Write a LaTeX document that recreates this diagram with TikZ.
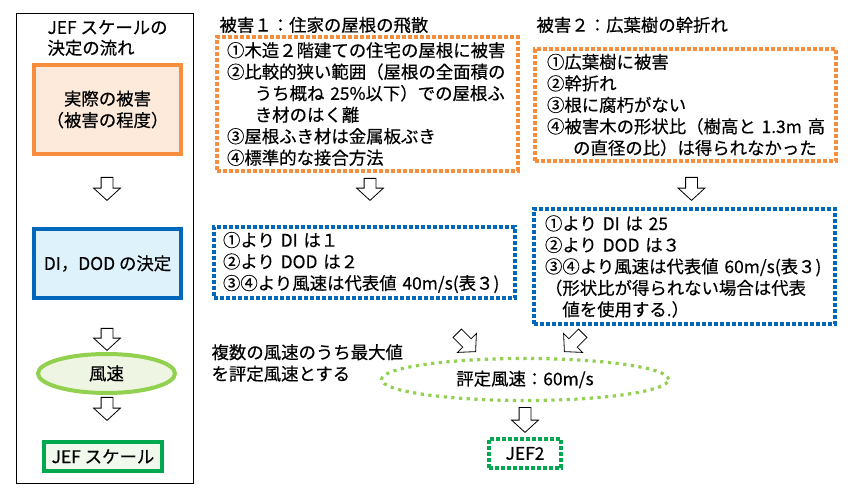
\documentclass[tikz,border=0pt]{standalone}
\usepackage{fontspec}
\setmainfont{Noto Sans CJK JP}[FakeBold=0.4]
\usetikzlibrary{positioning,shapes.geometric,shapes.arrows}
\definecolor{dmgorange}{HTML}{F68E3E}
\definecolor{dmgpeach}{HTML}{FDEADA}
\definecolor{diblue}{HTML}{0068BA}
\definecolor{dicyan}{HTML}{DDF2FA}
\definecolor{windgreen}{HTML}{92D050}
\definecolor{windpale}{HTML}{EEF5E2}
\definecolor{jefgreen}{HTML}{00A94F}
\definecolor{jefpale}{HTML}{F1F8EC}

\tikzset{
  txt/.style={font=\fontsize{17.4pt}{21.5pt}\selectfont},
  flowbox/.style={txt, draw=#1, line width=4pt, align=center, inner sep=2pt},
  dotbox/.style={txt, draw=#1, line width=4pt, dash pattern=on 4pt off 2pt,
    anchor=north west, align=left, inner ysep=0pt},
  hollow/.style={single arrow, draw, fill=white, line width=0.8pt, inner xsep=0pt,
    inner ysep=5.5pt, single arrow head extend=7.5pt, single arrow tip angle=95,
    minimum height=23pt, anchor=tail}
}

\begin{document}
\begin{tikzpicture}[x=1pt,y=-1pt]
    \useasboundingbox (0,0) rectangle (862,502);
    \node[draw, line width=0.8pt, anchor=north west, minimum width=177pt,
      minimum height=470pt, inner sep=0pt] (flow) at (16,13) {};
    \node[anchor=west, align=left, font=\fontsize{17.4pt}{20.5pt}\selectfont]
      (flowtitle) at (44,38) {JEF スケールの\\決定の流れ};
    \node[flowbox=dmgorange, fill=dmgpeach, minimum width=147pt, minimum height=89pt]
      (real) at (107.5,109.5) {実際の被害\\（被害の程度）};
    \node[flowbox=diblue, fill=dicyan, minimum width=147pt, minimum height=69pt]
      (didod) at (107.5,263.5) {DI，DOD の決定};
    \node[flowbox=windgreen, fill=windpale, ellipse, minimum width=137pt, minimum height=39pt]
      (wind) at (106.5,373.5) {風速};
    \node[flowbox=jefgreen, fill=jefpale, minimum width=118pt, minimum height=29pt]
      (jef) at (103,456.5) {JEF スケール};
    \node[hollow, rotate=-90] (a1) at (107,177) {};
    \node[hollow, rotate=-90, minimum height=22pt] (a2) at (107,328) {};
    \node[hollow, rotate=-90] (a3) at (107,397) {};

    \node[txt, anchor=west] (d1title) at (216,25) {被害１：住家の屋根の飛散};
    \node[dotbox=dmgorange, inner xsep=10pt, text width=280.5pt, minimum height=134pt]
      (d1) at (215,35) {①木造２階建ての住宅の屋根に被害\\
        ②比較的狭い範囲（屋根の全面積の\\
        \hspace*{1.6em}うち概ね~25\%以下）での屋根ふ\\
        \hspace*{1.6em}き材のはく離\\
        ③屋根ふき材は金属板ぶき\\
        ④標準的な接合方法};
    \node[txt, anchor=west] (d2title) at (533,25) {被害２：広葉樹の幹折れ};
    \node[dotbox=dmgorange, inner xsep=12pt, text width=277pt, minimum height=112pt]
      (d2) at (533,47) {①広葉樹に被害\\
        ②幹折れ\\
        ③根に腐朽がない\\
        ④被害木の形状比（樹高と~1.3m~高\\
        \hspace*{1.5em}の直径の比）は得られなかった};
    \node[hollow, rotate=-90, minimum height=22pt] (a4) at (370,178) {};
    \node[hollow, rotate=-90] (a5) at (691.5,177) {};

    \node[dotbox=diblue, inner xsep=9pt, text width=283pt, minimum height=71pt]
      (r1) at (212,225) {①より DI は１\\
        ②より DOD は２\\
        ③④より風速は代表値~40m/s(表３)};
    \node[dotbox=diblue, inner xsep=11pt, text width=279pt, minimum height=115pt]
      (r2) at (532,207) {①より DI は 25\\
        ②より DOD は３\\
        ③④より風速は代表値~60m/s(表３)\\
        （形状比が得られない場合は代表\\
        \hspace*{1em}値を使用する.）};
    \node[hollow, rotate=-45, anchor=tip, minimum height=26pt] (a6) at (476,352) {};
    \node[hollow, rotate=-135, anchor=tip, minimum height=26pt] (a7) at (564,352) {};

    \node[txt, anchor=west, align=left] (maxnote) at (208,363)
      {複数の風速のうち最大値\\を評定風速とする};
    \node[txt, ellipse, draw=windgreen, line width=3.2pt, dash pattern=on 3.2pt off 4.5pt,
      minimum width=287pt, minimum height=42pt] (rated) at (525,379.5) {評定風速：60m/s};
    \node[hollow, rotate=-90, minimum height=25pt] (a8) at (525,407) {};
    \node[dotbox=jefgreen, anchor=center, align=center, minimum width=72pt,
      minimum height=29pt, inner xsep=4pt] (jef2) at (525,453.5) {JEF2};
\end{tikzpicture}
\end{document}
